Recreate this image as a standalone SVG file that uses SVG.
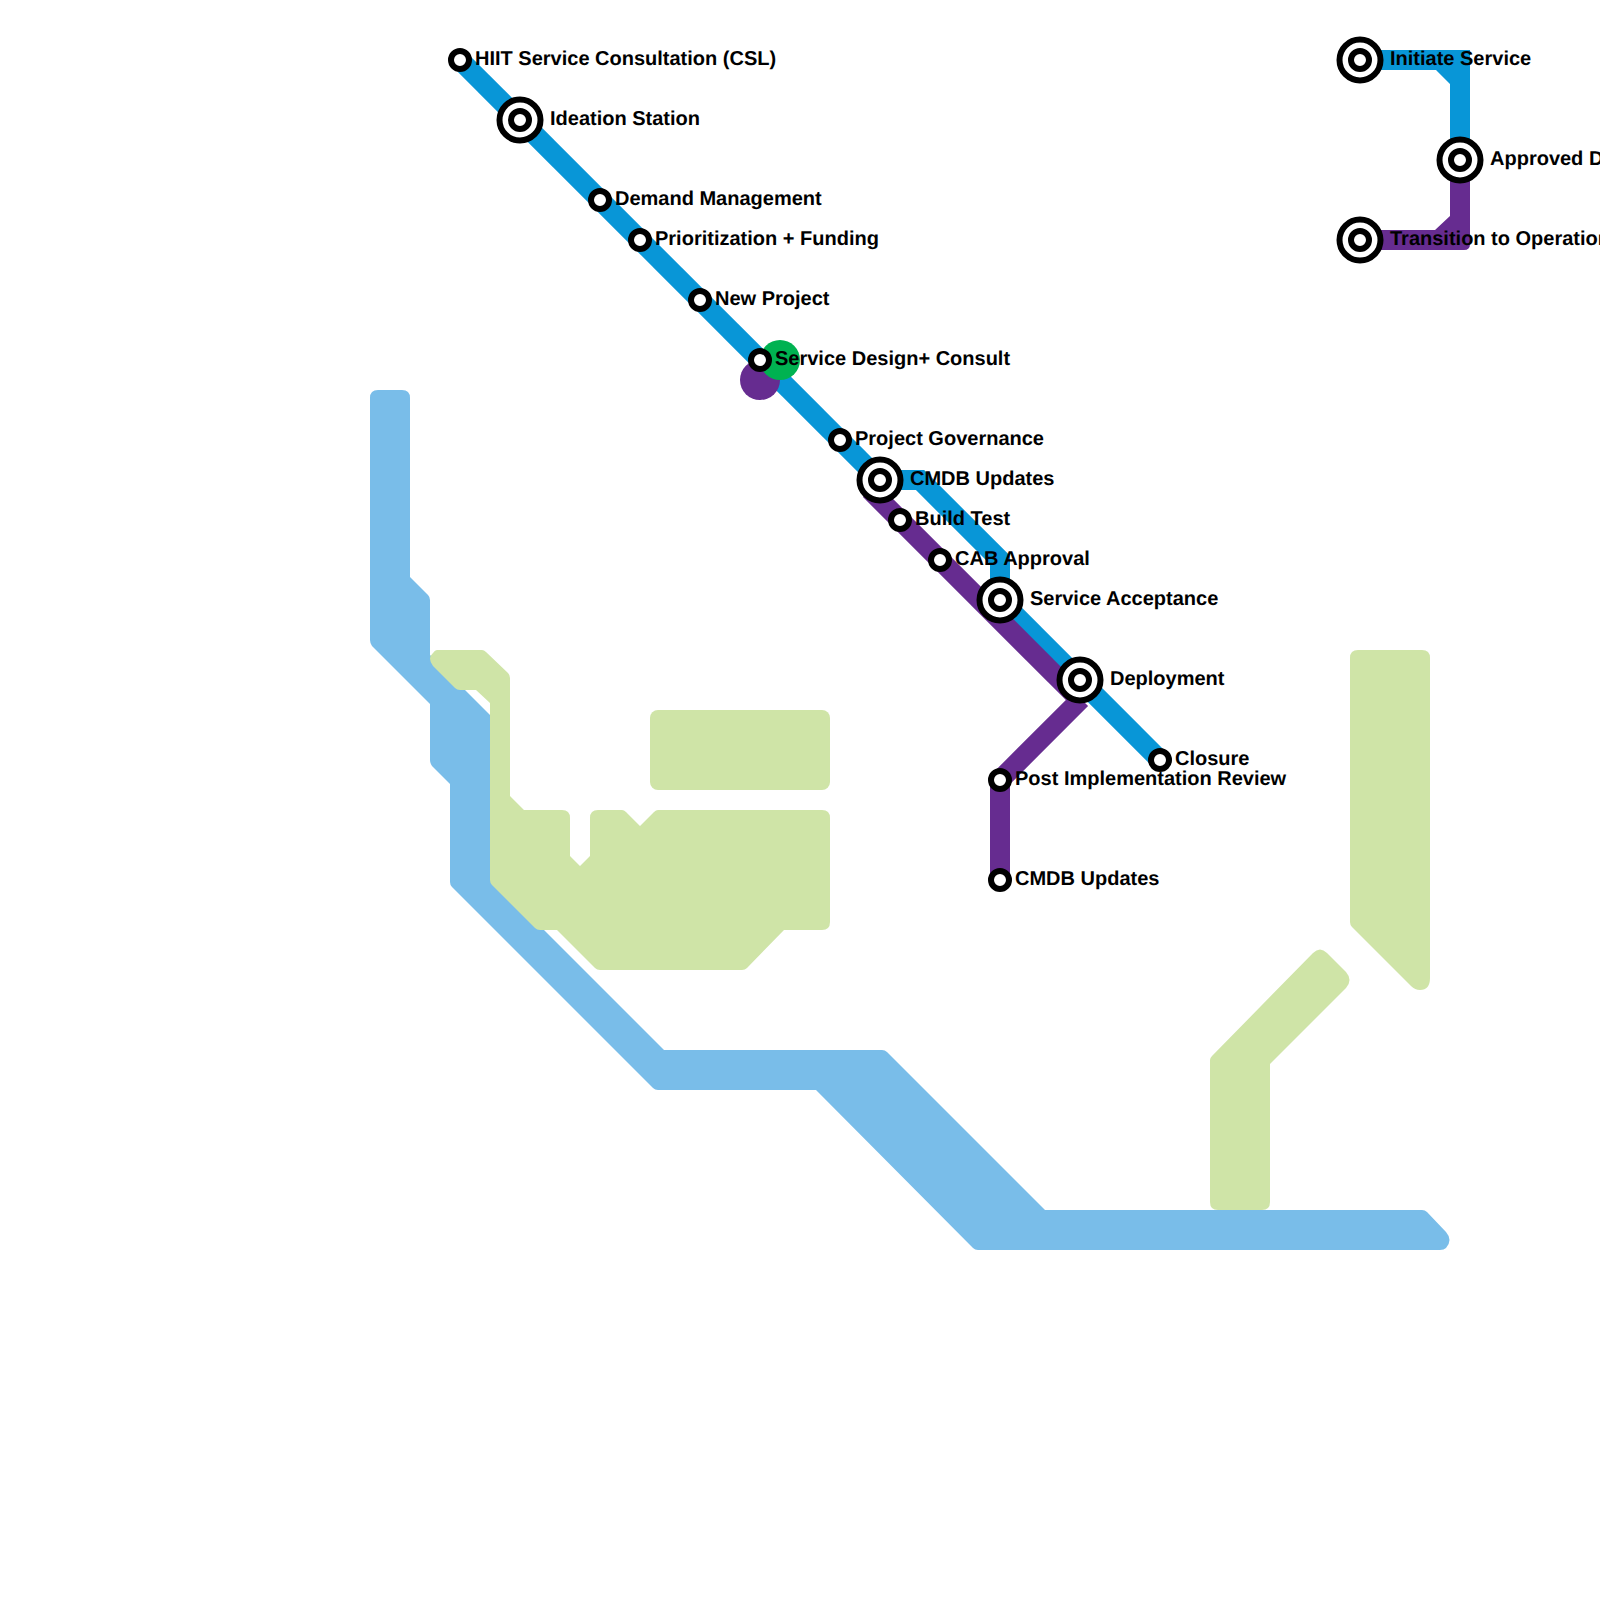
<svg xmlns="http://www.w3.org/2000/svg" width="1600" height="1600" viewBox="0 0 1600 1600">
<style>
.l{fill:none;stroke-width:20}
.b{stroke:#0896d7}.p{stroke:#662c90}
.lb{fill:#79bde9}.lg{fill:#cfe4a7}
.r{fill:#fff;stroke:#000;stroke-width:6}
.o{fill:#fff;stroke:#000;stroke-width:6}
text{font-family:"Liberation Sans",Arial,sans-serif;font-weight:bold;font-size:20px;fill:#000;text-rendering:geometricPrecision}
</style>
<defs>
<g id="st"><circle class="r" r="9"/></g>
<g id="ic"><circle class="o" r="20.5"/><circle class="r" r="9"/></g>
</defs>
<rect width="1600" height="1600" fill="#fff"/>
<g id="areas">
<path class="lb" d="M370,398 Q370,390 378,390 H402 Q410,390 410,398 V577 L428,595 Q430,597 430,600 V655 L490,715 V876 L664,1050 H882 Q885,1050 887,1052 L1045,1210 H1422 Q1425,1210 1427,1212 L1446,1232 Q1453,1240 1446,1248 Q1444,1250 1440,1250 H978 Q975,1250 973,1248 L816,1090 H658 Q655,1090 653,1088 L452,887 Q450,885 450,882 V784 L432,766 Q430,763 430,760 V704 L372,646 Q370,643 370,640 Z"/>
<path class="lg" d="M437,650 H482 Q484,650 486,652 L508,673 Q510,675 510,678 V796 L524,810 H562 Q570,810 570,818 V856 L580,866 L590,856 V818 Q590,810 598,810 H622 Q624,810 626,812 L640,826 L654,812 Q656,810 658,810 H822 Q830,810 830,818 V922 Q830,930 822,930 H784 L747,968 Q745,970 742,970 H600 Q597,970 595,968 L557,930 H540 Q537,930 535,928 L492,885 Q490,883 490,880 V703 L476,690 H460 Q457,690 455,688 L433,666 Q427,658 433,653 Q435,650 437,650 Z"/>
<rect class="lg" x="650" y="710" width="180" height="80" rx="8"/>
<path class="lg" d="M1358,650 H1422 Q1430,650 1430,658 V978 Q1430,990 1420,990 Q1415,990 1411,986 L1352,927 Q1350,925 1350,922 V658 Q1350,650 1358,650 Z"/>
<path class="lg" d="M1212,1056 L1313,953 Q1320,946 1327,953 L1346,972 Q1353,980 1346,988 L1270,1064 V1202 Q1270,1210 1262,1210 H1218 Q1210,1210 1210,1202 V1060 Q1210,1058 1212,1056 Z"/>
</g>
<g id="connectors">
<path class="l b" d="M460,60 L880,480"/>
<path class="l b" d="M1000,600 L1160,760"/>
<path class="l b" d="M880,480 H920 L1000,560 V600"/>
<path class="l p" d="M870,490 L1082,702"/>
<path class="l p" d="M1081,699 L1000,780 V880"/>
<path d="M1360,50 H1470 V160 H1450 V84 L1436,70 H1360 Z" fill="#0896d7"/>
<path d="M1450,160 H1470 V244 Q1470,250 1464,250 H1360 V230 H1435 L1450,216 Z" fill="#662c90"/>
</g>
<g id="terminals">
<circle cx="760" cy="380" r="20" fill="#662c90"/>
<circle cx="780" cy="360" r="20" fill="#00b251"/>
</g>
<g id="n-hiit"><use href="#st" x="460" y="60"/><text x="475" y="65">HIIT Service Consultation (CSL)</text></g>
<g id="n-ideation"><use href="#ic" x="520" y="120"/><text x="550" y="125">Ideation Station</text></g>
<g id="n-demand"><use href="#st" x="600" y="200"/><text x="615" y="205">Demand Management</text></g>
<g id="n-prioritization"><use href="#st" x="640" y="240"/><text x="655" y="245">Prioritization + Funding</text></g>
<g id="n-newproject"><use href="#st" x="700" y="300"/><text x="715" y="305">New Project</text></g>
<g id="n-design"><use href="#st" x="760" y="360"/><text x="775" y="365">Service Design+ Consult</text></g>
<g id="n-governance"><use href="#st" x="840" y="440"/><text x="855" y="445">Project Governance</text></g>
<g id="n-cmdb1"><use href="#ic" x="880" y="480"/><text x="910" y="485">CMDB Updates</text></g>
<g id="n-build"><use href="#st" x="900" y="520"/><text x="915" y="525">Build Test</text></g>
<g id="n-cab"><use href="#st" x="940" y="560"/><text x="955" y="565">CAB Approval</text></g>
<g id="n-acceptance"><use href="#ic" x="1000" y="600"/><text x="1030" y="605">Service Acceptance</text></g>
<g id="n-deployment"><use href="#ic" x="1080" y="680"/><text x="1110" y="685">Deployment</text></g>
<g id="n-closure"><use href="#st" x="1160" y="760"/><text x="1175" y="765">Closure</text></g>
<g id="n-pir"><use href="#st" x="1000" y="780"/><text x="1015" y="785">Post Implementation Review</text></g>
<g id="n-cmdb2"><use href="#st" x="1000" y="880"/><text x="1015" y="885">CMDB Updates</text></g>
<g id="n-initiate"><use href="#ic" x="1360" y="60"/><text x="1390" y="65">Initiate Service</text></g>
<g id="n-approved"><use href="#ic" x="1460" y="160"/><text x="1490" y="165">Approved D</text></g>
<g id="n-transition"><use href="#ic" x="1360" y="240"/><text x="1390" y="245">Transition to Operation</text></g>
</svg>
